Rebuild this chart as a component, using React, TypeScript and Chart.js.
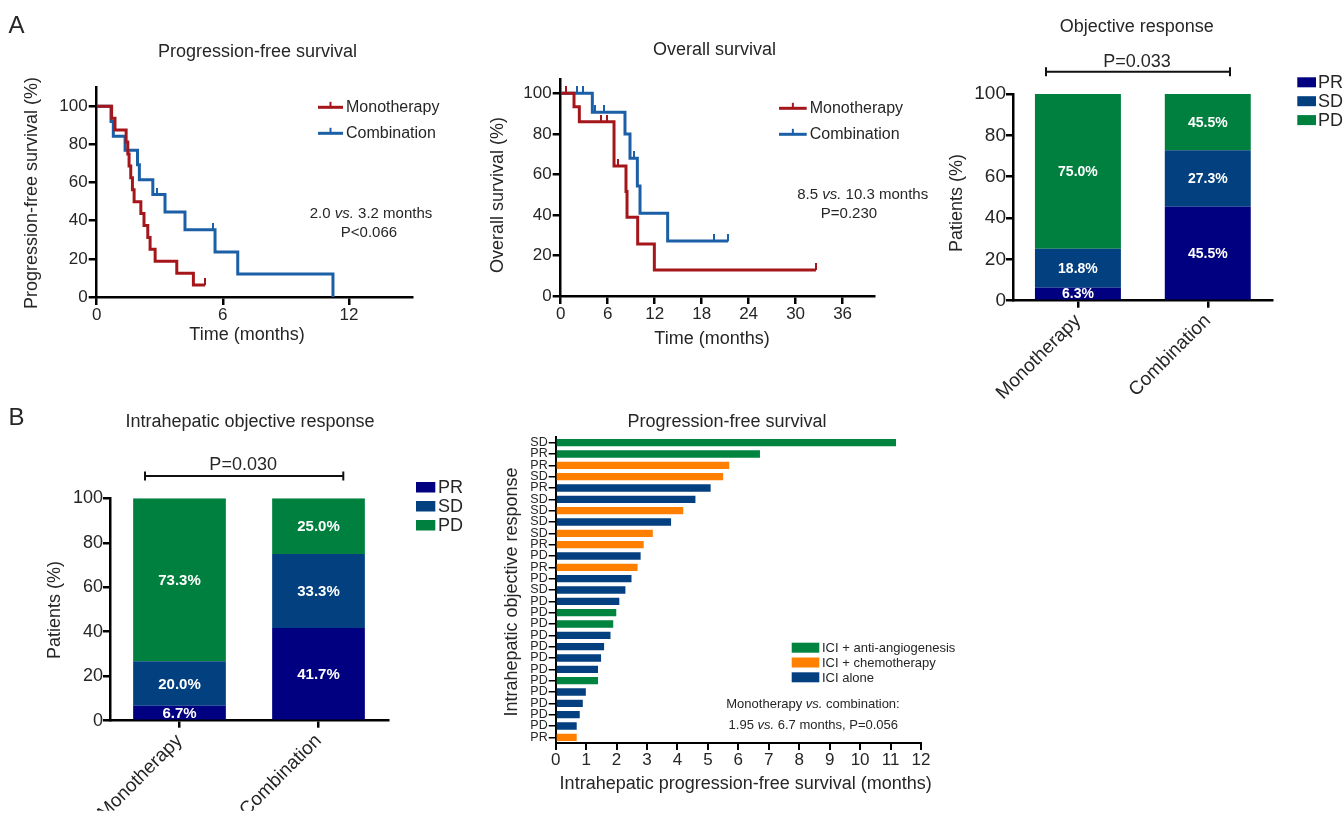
import React, { useEffect, useRef } from 'react';
import { Chart, registerables } from 'chart.js';

Chart.register(...registerables);

const CW = 1344;
const CH = 814;
const FONT = "'Liberation Sans', Arial, Helvetica, sans-serif";
const INK = '#262626';
const RED = '#a5161b';
const BLUE = '#1b5fa6';
const PR_COLOR = '#000080';
const SD_COLOR = '#02407f';
const PD_COLOR = '#00803f';

// ---------- Panel A: Kaplan-Meier curves ----------
const kmSeries = ['Monotherapy', 'Combination'];

const pfsMonoTime = [0, 0.71, 0.87, 1.4, 1.48, 1.54, 1.62, 1.7, 1.78, 2.1, 2.25, 2.43, 2.54, 2.78, 3.81, 4.6, 5.16];
const pfsMonoSurv = [100, 93.75, 87.5, 81.25, 75, 68.75, 62.5, 56.25, 50, 43.75, 37.5, 31.25, 25, 18.75, 12.5, 6.25, 6.25];
const pfsMonoCensorTime = [5.16];
const pfsMonoCensorSurv = [6.25];
const pfsCombTime = [0, 0.68, 0.79, 1.35, 1.94, 2.03, 2.67, 3.25, 4.2, 5.63, 6.71, 11.24];
const pfsCombSurv = [100, 92, 84.3, 76.9, 69.4, 61.5, 53.7, 44.6, 35.3, 23.6, 12.1, 0];
const pfsCombCensorTime = [2.89, 5.52];
const pfsCombCensorSurv = [53.7, 35.3];

const osMonoTime = [0, 1.7, 2.38, 6.81, 8.34, 8.47, 9.83, 11.96, 32.6];
const osMonoSurv = [100, 93.4, 86.0, 64.1, 51.5, 38.8, 25.7, 12.8, 12.8];
const osMonoCensorTime = [0.68, 5.15, 5.87, 7.36, 32.6];
const osMonoCensorSurv = [100, 86.0, 86.0, 64.1, 12.8];
const osCombTime = [0, 4.04, 8.21, 8.85, 9.79, 10.13, 13.66, 21.4];
const osCombSurv = [100, 90.6, 79.9, 67.9, 54.3, 40.8, 27.1, 27.1];
const osCombCensorTime = [2.13, 2.81, 4.38, 5.53, 9.36, 19.6, 21.4];
const osCombCensorSurv = [100, 100, 90.6, 90.6, 67.9, 27.1, 27.1];

type Part = [string, boolean];
const pfsNote: Part[][] = [[['2.0 ', false], ['vs.', true], [' 3.2 months', false]], [['P<0.066', false]]];
const osNote: Part[][] = [[['8.5 ', false], ['vs.', true], [' 10.3 months', false]], [['P=0.230', false]]];

// ---------- Stacked response bars ----------
const groups = ['Monotherapy', 'Combination'];
const responseKeys = ['PR', 'SD', 'PD'];

const orPR = [6.3, 45.5];
const orSD = [18.8, 27.3];
const orPD = [75.0, 27.2];
const orLabelsPR = ['6.3%', '45.5%'];
const orLabelsSD = ['18.8%', '27.3%'];
const orLabelsPD = ['75.0%', '45.5%'];
const orP = 'P=0.033';

const ihPR = [6.7, 41.7];
const ihSD = [20.0, 33.3];
const ihPD = [73.3, 25.0];
const ihLabelsPR = ['6.7%', '41.7%'];
const ihLabelsSD = ['20.0%', '33.3%'];
const ihLabelsPD = ['73.3%', '25.0%'];
const ihP = 'P=0.030';

// ---------- Waterfall (intrahepatic PFS) ----------
const wfResponse = ['SD', 'PR', 'PR', 'SD', 'PR', 'SD', 'SD', 'SD', 'SD', 'PR', 'PD', 'PR', 'PD', 'SD', 'PD', 'PD', 'PD', 'PD', 'PD', 'PD', 'PD', 'PD', 'PD', 'PD', 'PD', 'PD', 'PR'];
const wfPfs = [11.18, 6.71, 5.7, 5.5, 5.09, 4.59, 4.19, 3.79, 3.19, 2.89, 2.79, 2.69, 2.49, 2.29, 2.09, 1.99, 1.89, 1.8, 1.59, 1.49, 1.39, 1.39, 0.99, 0.89, 0.79, 0.69, 0.69];
const wfGroup = [0, 0, 1, 1, 2, 2, 1, 2, 1, 1, 2, 1, 2, 2, 2, 0, 0, 2, 2, 2, 2, 0, 2, 2, 2, 2, 1];
const wfGroupNames = ['ICI + anti-angiogenesis', 'ICI + chemotherapy', 'ICI alone'];
const wfGroupColors = ['#00843f', '#ff8000', '#043f80'];
const wfNote: Part[][] = [
  [['Monotherapy ', false], ['vs.', true], [' combination:', false]],
  [['1.95 ', false], ['vs.', true], [' 6.7 months, P=0.056', false]],
];

// ---------- helpers ----------
function frame(l: number, t: number, r: number, b: number, yW: number, xH: number) {
  return { padding: { left: l - yW, top: t, right: CW - r, bottom: CH - b - xH }, yW, xH };
}

function zip(xs: number[], ys: number[]) {
  return xs.map((x, i) => ({ x, y: ys[i] }));
}

function tickImage(color: string) {
  const c = document.createElement('canvas');
  c.width = 2;
  c.height = 14;
  const g = c.getContext('2d')!;
  g.fillStyle = color;
  g.fillRect(0, 0, 2, 7);
  return c;
}

function text(ctx: CanvasRenderingContext2D, s: string, x: number, y: number, size: number, opt: any = {}) {
  ctx.font = `${opt.italic ? 'italic ' : ''}${opt.bold ? 'bold ' : ''}${size}px ${FONT}`;
  ctx.fillStyle = opt.color || INK;
  ctx.textAlign = opt.align || 'center';
  ctx.textBaseline = 'middle';
  ctx.fillText(s, x, y);
}

function vtext(ctx: CanvasRenderingContext2D, s: string, x: number, y: number, size: number) {
  ctx.save();
  ctx.translate(x, y);
  ctx.rotate(-Math.PI / 2);
  text(ctx, s, 0, 0, size);
  ctx.restore();
}

function rich(ctx: CanvasRenderingContext2D, parts: Part[], cx: number, cy: number, size: number) {
  const fontOf = (it: boolean) => `${it ? 'italic ' : ''}${size}px ${FONT}`;
  let total = 0;
  const ws = parts.map(([s, it]) => {
    ctx.font = fontOf(it);
    const w = ctx.measureText(s).width;
    total += w;
    return w;
  });
  let x = cx - total / 2;
  ctx.textAlign = 'left';
  ctx.textBaseline = 'middle';
  ctx.fillStyle = INK;
  parts.forEach(([s, it], i) => {
    ctx.font = fontOf(it);
    ctx.fillText(s, x, cy);
    x += ws[i];
  });
}

function kmLegend(ctx: CanvasRenderingContext2D, x1: number, x2: number, y: number, color: string, label: string) {
  ctx.strokeStyle = color;
  ctx.lineWidth = 3;
  ctx.beginPath();
  ctx.moveTo(x1, y);
  ctx.lineTo(x2, y);
  ctx.stroke();
  ctx.lineWidth = 2;
  ctx.beginPath();
  const m = (x1 + x2) / 2;
  ctx.moveTo(m, y - 5.5);
  ctx.lineTo(m, y);
  ctx.stroke();
  text(ctx, label, x2 + 3, y, 16, { align: 'left' });
}

function bracket(ctx: CanvasRenderingContext2D, x1: number, x2: number, y: number, label: string, ty: number) {
  ctx.strokeStyle = '#111';
  ctx.lineWidth = 2;
  ctx.beginPath();
  ctx.moveTo(x1, y);
  ctx.lineTo(x2, y);
  ctx.moveTo(x1, y - 4.5);
  ctx.lineTo(x1, y + 4.5);
  ctx.moveTo(x2, y - 4.5);
  ctx.lineTo(x2, y + 4.5);
  ctx.stroke();
  text(ctx, label, (x1 + x2) / 2 - 1, ty, 18);
}

function squareLegend(ctx: CanvasRenderingContext2D, x: number, top: number, step: number, w: number, h: number, names: string[], colors: string[], size: number, tx: number) {
  names.forEach((n, i) => {
    const y = top + i * step;
    ctx.fillStyle = colors[i];
    ctx.fillRect(x, y, w, h);
    text(ctx, n, tx, y + h / 2 + 1, size, { align: 'left' });
  });
}

const overlay = (id: string, draw: (ctx: CanvasRenderingContext2D, chart: any) => void) => ({
  id,
  afterDraw(chart: any) {
    const ctx = chart.ctx as CanvasRenderingContext2D;
    ctx.save();
    draw(ctx, chart);
    ctx.restore();
  },
});

const barLabels = (rows: string[][], size: number) => ({
  id: 'barLabels',
  afterDatasetsDraw(chart: any) {
    const ctx = chart.ctx as CanvasRenderingContext2D;
    ctx.save();
    rows.forEach((row, di) => {
      const meta = chart.getDatasetMeta(di);
      meta.data.forEach((el: any, i: number) => {
        const p = el.getCenterPoint();
        text(ctx, row[i], p.x, p.y + 1, size, { bold: true, color: '#ffffff' });
      });
    });
    ctx.restore();
  },
});

function linearAxis(o: any) {
  return {
    type: 'linear',
    min: o.min,
    max: o.max,
    afterBuildTicks: (s: any) => {
      s.ticks = s.ticks.filter(
        (t: any) => t.value <= o.max + 1e-9 && Math.abs(t.value / o.step - Math.round(t.value / o.step)) < 1e-6
      );
      s.min = o.min;
      s.max = o.max;
    },
    afterFit: o.fit,
    border: { display: true, color: '#000', width: o.border },
    grid: { display: true, drawOnChartArea: false, drawTicks: true, tickLength: o.tickLen, color: '#000', lineWidth: o.border },
    ticks: { stepSize: o.step, includeBounds: false, color: INK, font: { family: FONT, size: o.size }, padding: o.pad, maxRotation: 0, autoSkip: false },
    title: o.title
      ? { display: true, text: o.title, color: INK, font: { family: FONT, size: o.titleSize }, padding: 0 }
      : { display: false },
  };
}

const baseOptions = (padding: any) => ({
  animation: false,
  responsive: false,
  devicePixelRatio: 1,
  events: [],
  layout: { padding },
  plugins: { legend: { display: false }, tooltip: { enabled: false }, title: { display: false } },
});

function kmConfig(p: any) {
  const f = frame(p.l, p.t, p.r, p.b, p.yW, p.xH);
  return {
    type: 'line',
    data: {
      datasets: [
        { label: kmSeries[0], data: zip(p.mT, p.mS), borderColor: RED, borderWidth: 3, stepped: true, pointRadius: 0, fill: false, order: 1 },
        { label: kmSeries[1], data: zip(p.cT, p.cS), borderColor: BLUE, borderWidth: 3, stepped: true, pointRadius: 0, fill: false, order: 2 },
        { type: 'scatter', data: zip(p.mCT, p.mCS), pointStyle: tickImage(RED), pointRadius: 3, showLine: false, order: 0 },
        { type: 'scatter', data: zip(p.cCT, p.cCS), pointStyle: tickImage(BLUE), pointRadius: 3, showLine: false, order: 0 },
      ],
    },
    options: {
      ...baseOptions(f.padding),
      scales: {
        x: linearAxis({ min: 0, max: p.xMax, step: p.xStep, size: 17, tickLen: 8, pad: 0, border: 2.5, fit: (s: any) => { s.height = f.xH; } }),
        y: linearAxis({ min: 0, max: p.yMax, step: 20, size: 17, tickLen: 8, pad: 1, border: 2.5, fit: (s: any) => { s.width = f.yW; } }),
      },
    },
    plugins: [overlay('km', p.draw)],
  };
}

function stackedConfig(p: any) {
  const f = frame(p.l, p.t, p.r, p.b, p.yW, p.xH);
  const ds = (label: string, data: number[], color: string) => ({
    label, data, backgroundColor: color, borderWidth: 0, barPercentage: p.barPct, categoryPercentage: 1,
  });
  return {
    type: 'bar',
    data: {
      labels: groups,
      datasets: [ds(responseKeys[0], p.pr, PR_COLOR), ds(responseKeys[1], p.sd, SD_COLOR), ds(responseKeys[2], p.pd, PD_COLOR)],
    },
    options: {
      ...baseOptions(f.padding),
      scales: {
        x: {
          type: 'category',
          stacked: true,
          offset: true,
          afterFit: (s: any) => { s.height = f.xH; },
          border: { display: true, color: '#000', width: 2.5 },
          grid: { display: true, offset: false, drawOnChartArea: false, drawTicks: true, tickLength: 7, color: '#000', lineWidth: 2.5 },
          ticks: { color: INK, font: { family: FONT, size: p.xSize }, padding: 2, minRotation: 45, maxRotation: 45, autoSkip: false },
        },
        y: {
          ...linearAxis({ min: 0, max: 100, step: 20, size: p.ySize, tickLen: 7, pad: 0, border: 2.5, fit: (s: any) => { s.width = f.yW; } }),
          stacked: true,
        },
      },
    },
    plugins: [barLabels(p.labels, p.labelSize), overlay('stk', p.draw)],
  };
}

function waterfallConfig() {
  const f = frame(555.7, 437, 921, 743, 54, 40);
  return {
    type: 'bar',
    data: {
      labels: wfResponse,
      datasets: [{ data: wfPfs, backgroundColor: wfGroup.map((g) => wfGroupColors[g]), borderWidth: 0, barPercentage: 0.645, categoryPercentage: 1 }],
    },
    options: {
      ...baseOptions(f.padding),
      indexAxis: 'y',
      scales: {
        x: linearAxis({ min: 0, max: 12, step: 1, size: 17, tickLen: 7, pad: 0, border: 2, fit: (s: any) => { s.height = f.xH; } }),
        y: {
          type: 'category',
          offset: true,
          afterFit: (s: any) => { s.width = f.yW; },
          border: { display: true, color: '#000', width: 2 },
          grid: { display: true, offset: false, drawOnChartArea: false, drawTicks: true, tickLength: 7, color: '#000', lineWidth: 1.5 },
          ticks: { color: INK, font: { family: FONT, size: 12.5 }, padding: 1, autoSkip: false },
          title: { display: false },
        },
      },
    },
    plugins: [
      overlay('wf', (ctx) => {
        text(ctx, 'Progression-free survival', 727, 422, 18);
        vtext(ctx, 'Intrahepatic objective response', 512.5, 592, 18);
        text(ctx, 'Intrahepatic progression-free survival (months)', 745.7, 784, 18);
        squareLegend(ctx, 791.7, 642.7, 14.8, 27.6, 10, wfGroupNames, wfGroupColors, 13, 822);
        rich(ctx, wfNote[0], 813, 704, 13);
        rich(ctx, wfNote[1], 813.3, 725, 13);
      }),
    ],
  };
}

const builders: (() => any)[] = [
  () =>
    kmConfig({
      l: 96.7, t: 87.2, r: 412, b: 297, yW: 75.5, xH: 48.8,
      xMax: 15, xStep: 6, yMax: 110,
      mT: pfsMonoTime, mS: pfsMonoSurv, cT: pfsCombTime, cS: pfsCombSurv,
      mCT: pfsMonoCensorTime, mCS: pfsMonoCensorSurv, cCT: pfsCombCensorTime, cCS: pfsCombCensorSurv,
      draw: (ctx: CanvasRenderingContext2D) => {
        text(ctx, 'A', 8.5, 26, 24, { align: 'left' });
        text(ctx, 'Progression-free survival', 257.5, 51.7, 18);
        vtext(ctx, 'Progression-free survival (%)', 32, 193, 18);
        text(ctx, 'Time (months)', 247, 335, 18);
        kmLegend(ctx, 318, 343, 107.3, RED, kmSeries[0]);
        kmLegend(ctx, 318, 343, 133.3, BLUE, kmSeries[1]);
        rich(ctx, pfsNote[0], 371, 214, 15);
        rich(ctx, pfsNote[1], 369, 232.5, 15);
      },
    }),
  () =>
    kmConfig({
      l: 560.7, t: 79.1, r: 873.9, b: 296, yW: 73.5, xH: 53.8,
      xMax: 40, xStep: 6, yMax: 107,
      mT: osMonoTime, mS: osMonoSurv, cT: osCombTime, cS: osCombSurv,
      mCT: osMonoCensorTime, mCS: osMonoCensorSurv, cCT: osCombCensorTime, cCS: osCombCensorSurv,
      draw: (ctx: CanvasRenderingContext2D) => {
        text(ctx, 'Overall survival', 714.5, 50, 18);
        vtext(ctx, 'Overall survival (%)', 498, 195, 18);
        text(ctx, 'Time (months)', 712, 339, 18);
        kmLegend(ctx, 779, 806.7, 108.3, RED, kmSeries[0]);
        kmLegend(ctx, 779, 806.7, 134.3, BLUE, kmSeries[1]);
        rich(ctx, osNote[0], 862.7, 195, 15);
        rich(ctx, osNote[1], 849, 214, 15);
      },
    }),
  () =>
    stackedConfig({
      l: 1013, t: 94, r: 1272.7, b: 300.7, yW: 67.1, xH: 100, barPct: 0.662,
      pr: orPR, sd: orSD, pd: orPD, labels: [orLabelsPR, orLabelsSD, orLabelsPD], labelSize: 14,
      xSize: 19, ySize: 19,
      draw: (ctx: CanvasRenderingContext2D) => {
        text(ctx, 'Objective response', 1136.7, 26.7, 18);
        vtext(ctx, 'Patients (%)', 956.7, 203, 18);
        bracket(ctx, 1046, 1230, 71.7, orP, 62.5);
        squareLegend(ctx, 1297.3, 77.3, 18.9, 18.7, 10, responseKeys, [PR_COLOR, SD_COLOR, PD_COLOR], 18, 1318);
      },
    }),
  () =>
    stackedConfig({
      l: 110, t: 498.3, r: 388, b: 720.7, yW: 65.8, xH: 90, barPct: 0.667,
      pr: ihPR, sd: ihSD, pd: ihPD, labels: [ihLabelsPR, ihLabelsSD, ihLabelsPD], labelSize: 15,
      xSize: 19, ySize: 18,
      draw: (ctx: CanvasRenderingContext2D) => {
        text(ctx, 'B', 8.5, 418, 24, { align: 'left' });
        text(ctx, 'Intrahepatic objective response', 250, 421.7, 18);
        vtext(ctx, 'Patients (%)', 55, 610, 18);
        bracket(ctx, 145, 343.3, 476, ihP, 465);
        squareLegend(ctx, 416, 482, 19, 19.3, 10.5, responseKeys, [PR_COLOR, SD_COLOR, PD_COLOR], 18, 438);
      },
    }),
  waterfallConfig,
];

function PanelCanvas({ build }: { build: () => any }) {
  const ref = useRef<HTMLCanvasElement>(null);
  useEffect(() => {
    const chart = new Chart(ref.current as HTMLCanvasElement, build());
    return () => chart.destroy();
  }, [build]);
  return (
    <canvas
      ref={ref}
      width={CW}
      height={CH}
      style={{ position: 'absolute', left: 0, top: 0, width: CW, height: CH }}
    />
  );
}

export default function App() {
  return (
    <div style={{ position: 'absolute', left: 0, top: 0, width: CW, height: CH, background: '#ffffff', overflow: 'hidden' }}>
      {builders.map((b, i) => (
        <PanelCanvas key={i} build={b} />
      ))}
    </div>
  );
}
